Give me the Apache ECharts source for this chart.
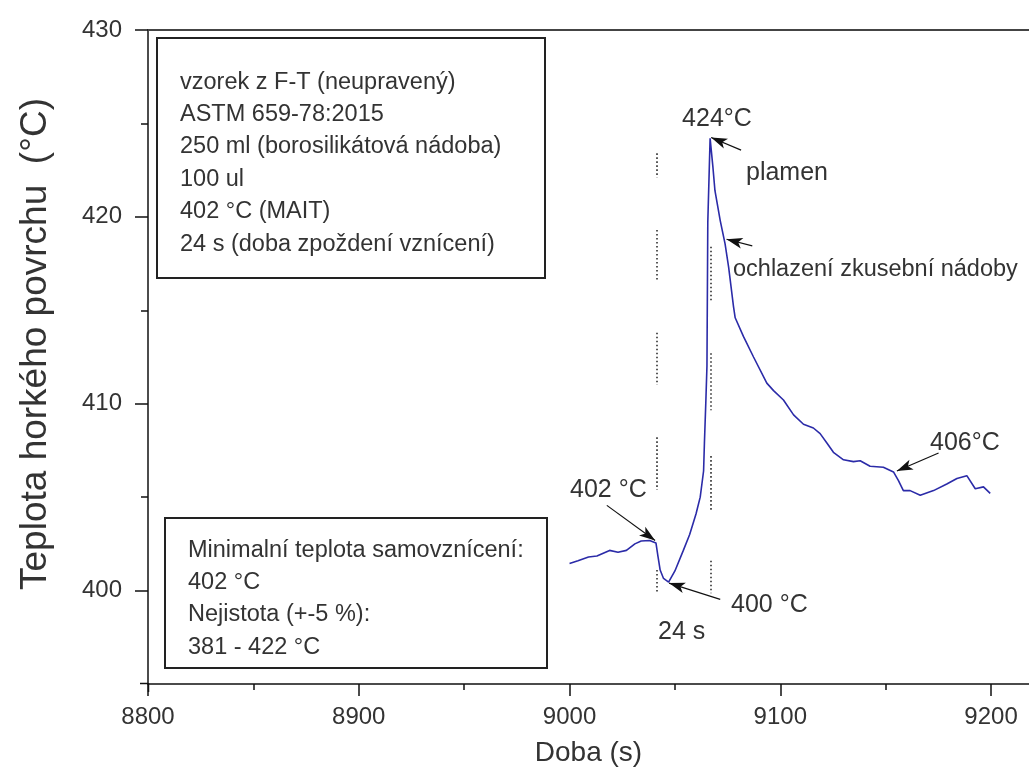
<!DOCTYPE html>
<html>
<head>
<meta charset="utf-8">
<script src="https://cdn.jsdelivr.net/npm/echarts@6/dist/echarts.min.js"></script>
<style>
  html, body { margin: 0; padding: 0; background: #fff; }
  #chart { width: 1029px; height: 779px; }
</style>
</head>
<body>
<div id="chart"></div>
<script>
// Surface temperature record (time in s, temperature in °C)
const times = [9000, 9004, 9009, 9013, 9016, 9019, 9023, 9027, 9031, 9034, 9038, 9041,
  9042, 9043, 9044.6, 9047, 9050, 9054, 9057, 9060, 9062, 9063.6, 9064, 9064.7, 9065.2,
  9065.6, 9066.7, 9068, 9069, 9071.5, 9073.8, 9075.5, 9077.8, 9078.6, 9082.5, 9087.3,
  9093.6, 9096.8, 9101.5, 9106.3, 9111, 9115.7, 9118.9, 9122.1, 9125.2, 9130, 9134.7,
  9137.9, 9142.6, 9148.9, 9153.7, 9156, 9158.4, 9161.6, 9166.4, 9172.7, 9179, 9183.8,
  9188.5, 9192.5, 9196.4, 9199.6];
const temps = [401.45, 401.6, 401.8, 401.85, 402.0, 402.15, 402.05, 402.15, 402.5, 402.65, 402.68, 402.55,
  401.8, 401.1, 400.65, 400.45, 401.05, 402.15, 403.0, 404.1, 405.0, 406.4, 407.9, 410.2, 412.0,
  419.7, 424.2, 422.7, 421.4, 419.8, 418.55, 417.3, 415.2, 414.6, 413.6, 412.5,
  411.1, 410.7, 410.2, 409.4, 408.9, 408.7, 408.4, 407.9, 407.4, 407.0, 406.9,
  406.95, 406.65, 406.6, 406.35, 405.9, 405.35, 405.35, 405.1, 405.35, 405.7, 406.0,
  406.15, 405.45, 405.55, 405.2];

const xTicks = [8800, 8900, 9000, 9100, 9200];
const xMinorTicks = [8850, 8950, 9050, 9150];
const yTicks = [400, 410, 420, 430];
const yMinorTicks = [405, 415, 425];

// ignition delay markers: time and dotted stretches (°C from, °C to)
const guideTimes = [9041.6, 9067.2];
const guideSegments = [
  [[423.4, 422.1], [419.3, 416.6], [413.8, 411.0], [408.2, 405.4], [401.1, 399.85]],
  [[418.4, 415.4], [412.7, 409.65], [407.2, 404.2], [401.6, 399.85]]
];

// callout arrows: [tail, head] in (s, °C)
const arrows = [
  [[9081.4, 423.57], [9067.2, 424.25]],
  [[9086.7, 418.45], [9074.5, 418.8]],
  [[9175.1, 407.36], [9155.3, 406.4]],
  [[9017.7, 404.56], [9040.6, 402.68]],
  [[9071.5, 399.53], [9047.2, 400.4]]
];

const infoLines = [
  'vzorek z F-T (neupravený)',
  'ASTM 659-78:2015',
  '250 ml (borosilikátová nádoba)',
  '100 ul',
  '402 °C (MAIT)',
  '24 s (doba zpoždení vznícení)'
];
const resultLines = [
  'Minimalní teplota samovznícení:',
  '402 °C',
  'Nejistota (+-5 %):',
  '381 - 422 °C'
];

const FONT = '"Liberation Sans", Arial, sans-serif';
const TXT = '#333';

const guideLines = [];
guideTimes.forEach((t, i) => {
  guideSegments[i].forEach(([a, b]) => {
    guideLines.push([{ coord: [t, a] }, { coord: [t, b] }]);
  });
});
const arrowLines = arrows.map(([tail, head]) => [{ coord: tail }, { coord: head }]);

function label(text, x, y, align, size) {
  return {
    type: 'text', x: x, y: y, silent: true,
    style: { text: text, fill: TXT, font: (size || 24) + 'px ' + FONT, textAlign: align || 'left', textVerticalAlign: 'middle' }
  };
}
function boxText(lines, x, y) {
  return {
    type: 'text', x: x, y: y, silent: true, z: 11,
    style: { text: lines.join('\n'), fill: TXT, font: '23.5px ' + FONT, lineHeight: 32.4, textAlign: 'left', textVerticalAlign: 'top' }
  };
}

const chart = echarts.init(document.getElementById('chart'), null, { renderer: 'canvas' });

const valueX = { type: 'value', min: 8800, max: 9218, interval: 100 };
const plain = v => String(v);

chart.setOption({
  animation: false,
  backgroundColor: '#fff',
  grid: { left: 148, right: 0, top: 30, bottom: 95, containLabel: false },
  xAxis: [
    Object.assign({}, valueX, {
      position: 'bottom',
      name: 'Doba (s)', nameLocation: 'middle', nameGap: 55,
      nameTextStyle: { color: TXT, fontFamily: FONT, fontSize: 28 },
      axisLine: { show: true, onZero: false, lineStyle: { color: '#111', width: 1.5 } },
      axisTick: { show: true, inside: false, length: 12, customValues: xTicks, lineStyle: { color: '#111', width: 1.5 } },
      axisLabel: { color: TXT, fontFamily: FONT, fontSize: 24, margin: 21, customValues: xTicks, formatter: plain },
      splitLine: { show: false }
    }),
    Object.assign({}, valueX, {
      position: 'bottom',
      axisLine: { show: false },
      axisTick: { show: true, length: 6, customValues: xMinorTicks, lineStyle: { color: '#111', width: 1.5 } },
      axisLabel: { show: false },
      splitLine: { show: false }
    }),
    Object.assign({}, valueX, {
      position: 'top',
      axisLine: { show: true, onZero: false, lineStyle: { color: '#444', width: 2.2 } },
      axisTick: { show: false }, axisLabel: { show: false }, splitLine: { show: false }
    })
  ],
  yAxis: [
    {
      type: 'value', min: 395, max: 430, position: 'left',
      axisLine: { show: true, onZero: false, lineStyle: { color: '#111', width: 1.5 } },
      axisTick: { show: true, length: 13, customValues: yTicks, lineStyle: { color: '#111', width: 1.5 } },
      axisLabel: { color: TXT, fontFamily: FONT, fontSize: 24, margin: 26, customValues: yTicks, formatter: plain },
      splitLine: { show: false }
    },
    {
      type: 'value', min: 395, max: 430, position: 'left',
      axisLine: { show: false },
      axisTick: { show: true, length: 7, customValues: yMinorTicks, lineStyle: { color: '#111', width: 1.5 } },
      axisLabel: { show: false },
      splitLine: { show: false }
    }
  ],
  series: [
    {
      type: 'line',
      data: times.map((t, i) => [t, temps[i]]),
      showSymbol: false,
      lineStyle: { color: '#2b2ba8', width: 1.6 },
      itemStyle: { color: '#2b2ba8' },
      z: 3,
      markLine: {
        silent: true, symbol: ['none', 'none'], animation: false,
        label: { show: false },
        lineStyle: { color: '#222', width: 1.5, type: [1.6, 2.4] },
        emphasis: { disabled: true },
        data: guideLines
      }
    },
    {
      type: 'line', data: [], showSymbol: false,
      markLine: {
        silent: true, symbol: ['none', 'arrow'], symbolSize: [8, 16], animation: false,
        label: { show: false },
        lineStyle: { color: '#111', width: 1.2, type: 'solid' },
        emphasis: { disabled: true },
        data: arrowLines
      }
    }
  ],
  graphic: [
    // vertical axis title
    {
      type: 'text', x: 36, y: 344, rotation: Math.PI / 2, silent: true,
      style: { text: 'Teplota horkého povrchu  (°C)', fill: TXT, font: '37px ' + FONT, textAlign: 'center', textVerticalAlign: 'middle' }
    },
    // axis stubs past the origin corner
    { type: 'line', silent: true, shape: { x1: 140, y1: 683.5, x2: 148, y2: 683.5 }, style: { stroke: '#111', lineWidth: 1.5 } },
    { type: 'line', silent: true, shape: { x1: 148.5, y1: 683, x2: 148.5, y2: 692 }, style: { stroke: '#111', lineWidth: 1.5 } },
    // description boxes
    { type: 'rect', silent: true, z: 10, shape: { x: 157, y: 38, width: 388, height: 240 }, style: { fill: '#fff', stroke: '#222', lineWidth: 2 } },
    boxText(infoLines, 180, 66),
    { type: 'rect', silent: true, z: 10, shape: { x: 165, y: 518, width: 382, height: 150 }, style: { fill: '#fff', stroke: '#222', lineWidth: 2 } },
    boxText(resultLines, 188, 534),
    // callout labels
    label('424°C', 717, 119, 'center', 25),
    label('plamen', 746, 173, 'left', 25),
    label('ochlazení zkusební nádoby', 733, 270, 'left', 23.5),
    label('406°C', 930, 443, 'left', 25),
    label('402 °C', 570, 490, 'left', 25),
    label('400 °C', 731, 605, 'left', 25),
    label('24 s', 658, 632, 'left', 25)
  ]
});
</script>
</body>
</html>
